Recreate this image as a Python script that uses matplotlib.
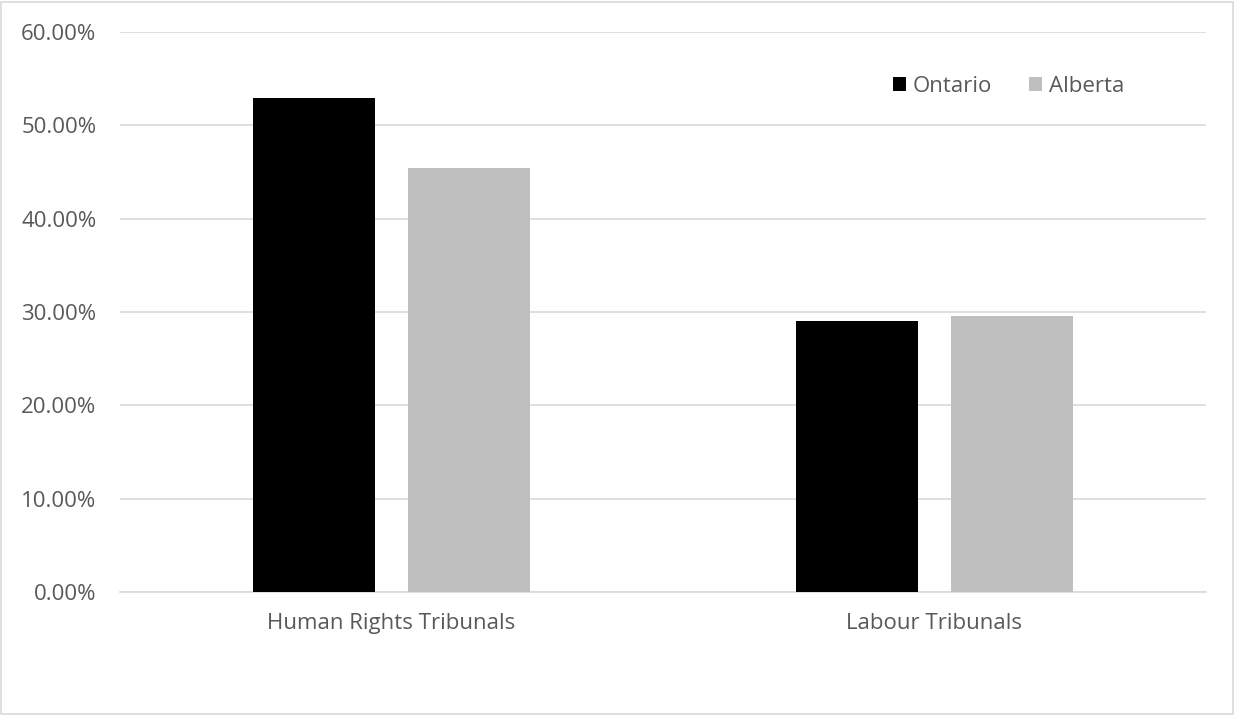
import matplotlib.pyplot as plt
import matplotlib
from matplotlib.ticker import FuncFormatter, MultipleLocator
from matplotlib.patches import Rectangle
import numpy as np

categories = ["Human Rights Tribunals", "Labour Tribunals"]
ontario = [52.9, 29.0]
alberta = [45.4, 29.6]
series_names = ["Ontario", "Alberta"]

fs = 16
matplotlib.rc('font', family=['Open Sans', 'DejaVu Sans'], size=fs)
txt = '#595959'
grid_c = '#d9d9d9'

f = plt.figure(figsize=(12.34, 7.15), dpi=100)
ax = f.add_axes([120/1234, 1 - 592/715, (1206-120)/1234, (592-32)/715])

x = np.arange(len(categories))
w = 0.225
gap = 0.059
ax.bar(x - (w + gap)/2, ontario, w, color='black', label=series_names[0], zorder=3)
ax.bar(x + (w + gap)/2, alberta, w, color='#bfbfbf', label=series_names[1], zorder=3)

ax.set_xlim(-0.5, len(categories) - 0.5)
ax.set_ylim(0, 60)
ax.yaxis.set_major_locator(MultipleLocator(10))
ax.yaxis.set_major_formatter(FuncFormatter(lambda v, p: "{:.2f}%".format(v)))
ax.grid(axis='y', color=grid_c, linewidth=1.2, zorder=0)
ax.set_xticks(x)
ax.set_xticklabels(categories, color=txt)
ax.tick_params(axis='both', length=0, colors=txt, labelsize=fs)
ax.tick_params(axis='x', pad=15)
ax.tick_params(axis='y', pad=17)
for s in ['top', 'right', 'left']:
    ax.spines[s].set_visible(False)
ax.spines['bottom'].set_color(grid_c)
ax.spines['bottom'].set_linewidth(1.2)

ax.legend(loc='upper right', bbox_to_anchor=(0.943, 0.958), ncol=2, frameon=False,
          fontsize=fs, labelcolor=txt, handlelength=0.6, handleheight=0.6,
          handletextpad=0.3, columnspacing=1.65)

# outer chart border
f.patches.append(Rectangle((1/1234, 1/715), 1232/1234, 712/715, transform=f.transFigure,
                           fill=False, edgecolor=grid_c, linewidth=1.2))

plt.savefig('out.png', dpi=100)
